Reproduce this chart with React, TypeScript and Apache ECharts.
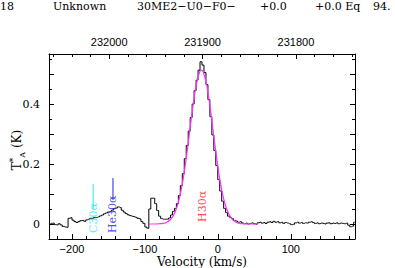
import React, { useEffect, useRef } from "react";
import * as echarts from "echarts";

// Spectrum: channel velocities start at V0 with width DV (km/s)
const V0 = -231;
const DV = 2.7;
const spectrum = [
  0.000, 0.002, 0.003, -0.002, -0.003, 0.001, -0.003, -0.008, -0.010, -0.011,
  0.019, 0.021, 0.013, 0.008, 0.005, 0.008, 0.011, 0.012, 0.009, 0.014,
  0.016, 0.019, 0.019, 0.022, 0.022, 0.024, 0.027, 0.030, 0.034, 0.037,
  0.040, 0.042, 0.046, 0.051, 0.053, 0.057, 0.055, 0.046, 0.040, 0.035,
  0.031, 0.028, 0.026, 0.024, 0.022, 0.019, 0.017, 0.008, 0.002, -0.010,
  -0.014, 0.050, 0.086, 0.086, 0.068, 0.045, 0.026, 0.018, 0.016, 0.016,
  0.016, 0.020, 0.030, 0.042, 0.052, 0.068, 0.095, 0.128, 0.168, 0.218,
  0.262, 0.310, 0.355, 0.400, 0.445, 0.480, 0.513, 0.541, 0.530, 0.505,
  0.465, 0.415, 0.358, 0.297, 0.245, 0.195, 0.148, 0.110, 0.076, 0.052,
  0.038, 0.026, 0.022, 0.018, 0.012, 0.010, 0.006, 0.008, 0.004, 0.001,
  0.003, 0.000, 0.002, 0.004, 0.001, -0.001, 0.004, 0.006, 0.003, 0.005,
  0.002, 0.006, 0.008, 0.005, 0.009, 0.006, 0.008, 0.004, 0.006, 0.002,
  0.005, 0.003, 0.001, -0.002, -0.001, 0.004, 0.006, 0.003, 0.005, 0.002,
  0.004, 0.003, 0.006, 0.008, 0.005, 0.002, 0.004, 0.001, 0.003, 0.002,
  0.000, 0.003, 0.004, 0.001, 0.003, 0.002, 0.004, 0.001, 0.003, 0.002,
  0.001, 0.003, -0.004, -0.009, -0.007, 0.006,
];

// Gaussian fit curve
const fitVel = [-95, -85, -80, -75, -70, -65, -60, -55, -50, -45, -40, -35, -30, -25, -22.5, -20, -15, -10, -5, 0, 5, 10, 15, 20, 25, 30, 35, 40, 55];
const fitT = [0.000, 0.000, 0.001, 0.002, 0.006, 0.015, 0.033, 0.065, 0.117, 0.191, 0.282, 0.378, 0.460, 0.507, 0.513, 0.507, 0.460, 0.378, 0.282, 0.191, 0.117, 0.065, 0.033, 0.015, 0.006, 0.002, 0.001, 0.000, 0.000];

// Line identifications
const lineNames = ["C30α", "He30α", "H30α"];
const lineVel = [-171, -143.8, -21.6];
const lineColors = ["#22e8ea", "#2222ee", "#ff2020"];
const lineTop: (number | null)[] = [0.133, 0.153, null];
const lineEnd: (number | null)[] = [0.05, 0.08, null];
const labelBase = [-0.03, -0.03, 0.007];

// Axes
const velMin = -231.5;
const velMax = 188;
const velLabels = [-200, -100, 0, 100];
const velMajorTicks = [-200, -100, 0, 100];
const velMinorTicks = [-220, -180, -160, -140, -120, -80, -60, -40, -20, 20, 40, 60, 80, 120, 140, 160, 180];
const freqRef = 231900; // MHz at velocity freqRefVel
const freqRefVel = -21;
const kmsPerMHz = 1.28;
const freqLabels = [231800, 231900, 232000];
const freqMinorTicks = [231740, 231760, 231780, 231820, 231840, 231860, 231880, 231920, 231940, 231960, 231980, 232020, 232040, 232060];
const yMin = -0.05;
const yMax = 0.567;
const yLabels = [0, 0.2, 0.4];
const yMajorTicks = [0, 0.1, 0.2, 0.3, 0.4, 0.5];
const yMinorTicks = [0.05, 0.15, 0.25, 0.35, 0.45, 0.55];

// Header
const headerTexts = ["518", "Unknown", "30ME2−U0−F0−", "+0.0", "+0.0 Eq", "94."];
const headerX = [14, 53, 137, 260, 315, 373];
const headerAlign = ["right", "left", "left", "left", "left", "left"];
const xTitle = "Velocity (km/s)";

const SERIF = "DejaVu Serif";
const SANS = "Liberation Sans";

export default function App() {
  const ref = useRef<HTMLDivElement>(null);
  useEffect(() => {
    if (!ref.current) return;
    const chart = echarts.init(ref.current, undefined, { renderer: "svg" });
    const specData = spectrum.map((t, i) => [V0 + i * DV, t]);
    const fitData = fitVel.map((v, i) => [v, fitT[i]]);
    const fMax = freqRef + (freqRefVel - velMin) / kmsPerMHz;
    const fMin = freqRef - (velMax - freqRefVel) / kmsPerMHz;

    const tickLine = { color: "#000", width: 1 };
    const noSplit = { show: false };

    const xAxes: any[] = [
      {
        type: "value", position: "bottom", min: velMin, max: velMax,
        axisLine: { show: true, onZero: false, lineStyle: tickLine },
        axisTick: { show: true, inside: true, length: 5, customValues: velMajorTicks, lineStyle: tickLine },
        axisLabel: { show: true, customValues: velLabels, margin: 4, color: "#000", fontFamily: SANS, fontSize: 11, formatter: (v: number) => (v < 0 ? "−" + Math.abs(v) : String(v)) },
        splitLine: noSplit,
      },
      {
        type: "value", position: "bottom", min: velMin, max: velMax,
        axisLine: { show: false, onZero: false },
        axisTick: { show: true, inside: true, length: 3, customValues: velMinorTicks, lineStyle: tickLine },
        axisLabel: { show: false }, splitLine: noSplit,
      },
      {
        type: "value", position: "top", min: fMin, max: fMax, inverse: true,
        axisLine: { show: true, onZero: false, lineStyle: tickLine },
        axisTick: { show: true, inside: true, length: 5, customValues: freqLabels, lineStyle: tickLine },
        axisLabel: { show: true, customValues: freqLabels, margin: 7, color: "#000", fontFamily: SANS, fontSize: 11, formatter: (v: number) => String(v) },
        splitLine: noSplit,
      },
      {
        type: "value", position: "top", min: fMin, max: fMax, inverse: true,
        axisLine: { show: false, onZero: false },
        axisTick: { show: true, inside: true, length: 3, customValues: freqMinorTicks, lineStyle: tickLine },
        axisLabel: { show: false }, splitLine: noSplit,
      },
    ];

    const yAxes: any[] = [
      {
        type: "value", position: "left", min: yMin, max: yMax,
        axisLine: { show: true, onZero: false, lineStyle: tickLine },
        axisTick: { show: true, inside: true, length: 5, customValues: yMajorTicks, lineStyle: tickLine },
        axisLabel: { show: true, customValues: yLabels, margin: 9, color: "#000", fontFamily: SERIF, fontSize: 11, formatter: (v: number) => (v === 0 ? "0" : v.toFixed(1)) },
        splitLine: noSplit,
      },
      {
        type: "value", position: "left", min: yMin, max: yMax,
        axisLine: { show: false, onZero: false },
        axisTick: { show: true, inside: true, length: 3, customValues: yMinorTicks, lineStyle: tickLine },
        axisLabel: { show: false }, splitLine: noSplit,
      },
      {
        type: "value", position: "right", min: yMin, max: yMax,
        axisLine: { show: true, onZero: false, lineStyle: tickLine },
        axisTick: { show: true, inside: true, length: 5, customValues: yMajorTicks, lineStyle: tickLine },
        axisLabel: { show: false }, splitLine: noSplit,
      },
      {
        type: "value", position: "right", min: yMin, max: yMax,
        axisLine: { show: false, onZero: false },
        axisTick: { show: true, inside: true, length: 3, customValues: yMinorTicks, lineStyle: tickLine },
        axisLabel: { show: false }, splitLine: noSplit,
      },
    ];

    const series: any[] = [
      {
        type: "line", name: "spectrum", data: specData, step: "middle", symbol: "none",
        lineStyle: { color: "#000", width: 1 }, xAxisIndex: 0, yAxisIndex: 0, z: 3,
      },
      {
        type: "line", name: "fit", data: fitData, smooth: 0.4, symbol: "none",
        lineStyle: { color: "#ff33ff", width: 1.2 }, xAxisIndex: 0, yAxisIndex: 0, z: 4,
      },
    ];
    lineNames.forEach((nm, i) => {
      const top = lineTop[i];
      const end = lineEnd[i];
      if (top !== null && end !== null) {
        series.push({
          type: "line", data: [[lineVel[i], top], [lineVel[i], end]], symbol: "none",
          lineStyle: { color: lineColors[i], width: 1 }, xAxisIndex: 0, yAxisIndex: 0, z: 5,
        });
      }
      series.push({
        type: "scatter", data: [{ value: [lineVel[i], labelBase[i]], name: nm }], symbolSize: 0,
        xAxisIndex: 0, yAxisIndex: 0, z: 6,
        label: {
          show: true, formatter: "{b}", rotate: 90, position: "inside", align: "left", verticalAlign: "middle",
          color: lineColors[i], fontFamily: SERIF, fontSize: 11,
        },
      });
    });

    const graphics: any[] = headerTexts.map((t, i) => ({
      type: "text", x: headerX[i], y: 6,
      style: { text: t, fill: "#000", fontFamily: SERIF, fontSize: 11, align: headerAlign[i], verticalAlign: "middle" },
    }));
    graphics.push({
      type: "text", x: 202, y: 262,
      style: { text: xTitle, fill: "#000", fontFamily: SERIF, fontSize: 12, align: "center", verticalAlign: "middle" },
    });
    graphics.push({
      type: "text", x: 17, y: 150, rotation: Math.PI / 2,
      style: {
        text: "{t|T}{s|*}{a|A}{n| (K)}", align: "center", verticalAlign: "middle", fill: "#000",
        rich: {
          t: { fontFamily: SERIF, fontSize: 12, lineHeight: 18, verticalAlign: "middle", fill: "#000" },
          s: { fontFamily: SERIF, fontSize: 9, lineHeight: 18, verticalAlign: "top", fill: "#000" },
          a: { fontFamily: SERIF, fontSize: 8, lineHeight: 18, verticalAlign: "bottom", fill: "#000" },
          n: { fontFamily: SERIF, fontSize: 12, lineHeight: 18, verticalAlign: "middle", fill: "#000" },
        },
      },
    });

    chart.setOption({
      animation: false,
      backgroundColor: "#fff",
      grid: { left: 49, right: 40, top: 54, bottom: 29, outerBoundsMode: "none" },
      xAxis: xAxes,
      yAxis: yAxes,
      series,
      graphic: graphics,
    });
    return () => chart.dispose();
  }, []);
  return <div ref={ref} style={{ position: "absolute", left: 0, top: 0, width: 395, height: 268 }} />;
}
